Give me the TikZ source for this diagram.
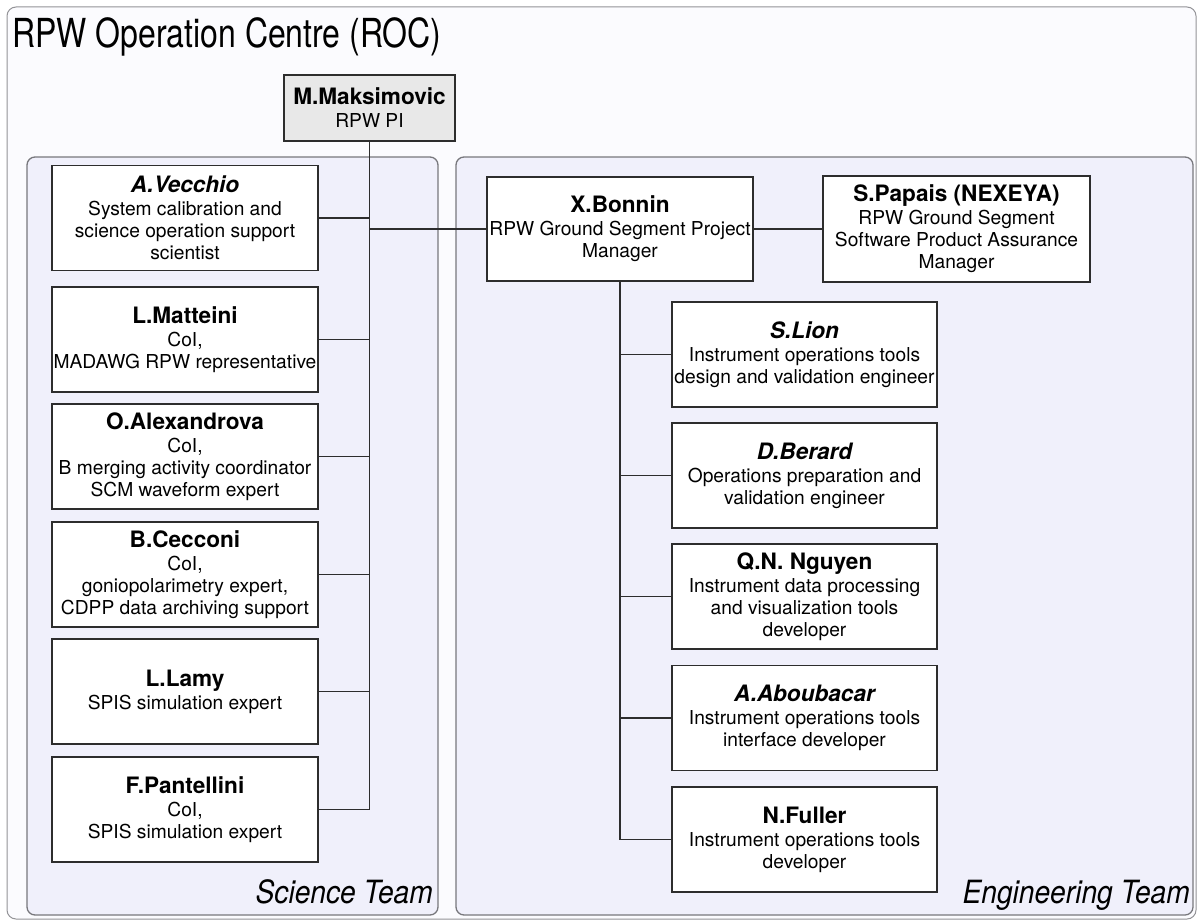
\documentclass[tikz,border=0pt]{standalone}
\usepackage{fontspec}
\usepackage{graphicx}
\setmainfont{TeX Gyre Heros}

\definecolor{rocfill}{RGB}{251,251,254}
\definecolor{teamfill}{RGB}{240,240,251}
\definecolor{pifill}{RGB}{232,232,232}
\definecolor{ink}{RGB}{45,45,45}
\definecolor{frame}{RGB}{120,120,125}

\newcommand\pname[1]{{\fontsize{22.6}{24}\selectfont\bfseries #1}}
\newcommand\pnamei[1]{{\fontsize{22.6}{24}\selectfont\bfseries\itshape #1}}
\newcommand\descfont{\fontsize{19.2}{22}\selectfont}

\tikzset{
  rocbox/.style={draw=frame!80, fill=rocfill, line width=1pt, rounded corners=9pt},
  teambox/.style={draw=frame, fill=teamfill, line width=1.3pt, rounded corners=8pt},
  person/.style={draw=ink, line width=1.2pt, fill=white, inner sep=0pt,
    minimum width=266pt, minimum height=105pt, align=center, font=\descfont},
  pibox/.style={person, fill=pifill, line width=1.8pt, minimum width=171pt, minimum height=66pt},
  link/.style={draw=ink, line width=1.1pt},
  teamlabel/.style={anchor=base east, inner sep=0pt, font=\itshape}
}

\begin{document}
\begin{tikzpicture}[x=1pt, y=-1pt]
\useasboundingbox (0,0) rectangle (1201,920);

% frames
\draw[rocbox] (7,7) rectangle (1196,919);
\draw[teambox] (27,157) rectangle (438,915);
\draw[teambox] (456,157) rectangle (1193,915);

\node[anchor=base west, inner sep=0pt] (title) at (12,48)
  {\scalebox{0.8}[1]{\fontsize{40}{40}\selectfont RPW Operation Centre (ROC)}};
\node[teamlabel] (scilabel) at (433,903)
  {\scalebox{0.88}[1]{\fontsize{32}{32}\selectfont\itshape Science Team}};
\node[teamlabel] (englabel) at (1190,903)
  {\scalebox{0.88}[1]{\fontsize{32}{32}\selectfont\itshape Engineering Team}};

% principal investigator
\node[pibox] (pi) at (369.5,108) {\pname{M.Maksimovic}\\[1pt] RPW PI};

% science team
\node[person] (vecchio) at (185,218) {\pnamei{A.Vecchio}\\[1pt] System calibration and\\ science operation support\\ scientist};
\node[person] (matteini) at (185,339.5) {\pname{L.Matteini}\\[1pt] CoI,\\ MADAWG RPW representative};
\node[person] (alexandrova) at (185,456.5) {\pname{O.Alexandrova}\\[1pt] CoI,\\ B merging activity coordinator\\ SCM waveform expert};
\node[person] (cecconi) at (185,574.5) {\pname{B.Cecconi}\\[1pt] CoI,\\ goniopolarimetry expert,\\ CDPP data archiving support};
\node[person] (lamy) at (185,691.5) {\pname{L.Lamy}\\[1pt] SPIS simulation expert};
\node[person] (pantellini) at (185,809.5) {\pname{F.Pantellini}\\[1pt] CoI,\\ SPIS simulation expert};

% engineering team
\node[person, minimum height=104pt] (bonnin) at (620,229) {\pname{X.Bonnin}\\[1pt] RPW Ground Segment Project\\ Manager};
\node[person, minimum width=267pt, minimum height=106pt] (papais) at (956.5,229) {\pname{S.Papais (NEXEYA)}\\[1pt] RPW Ground Segment\\ Software Product Assurance\\ Manager};

\node[person, minimum width=265pt] (lion) at (804.5,354.5) {\pnamei{S.Lion}\\[1pt] Instrument operations tools\\ design and validation engineer};
\node[person, minimum width=265pt] (berard) at (804.5,475.5) {\pnamei{D.Berard}\\[1pt] Operations preparation and\\ validation engineer};
\node[person, minimum width=265pt] (nguyen) at (804.5,596.5) {\pname{Q.N. Nguyen}\\[1pt] Instrument data processing\\ and visualization tools\\ developer};
\node[person, minimum width=265pt] (aboubacar) at (804.5,718) {\pnamei{A.Aboubacar}\\[1pt] Instrument operations tools\\ interface developer};
\node[person, minimum width=265pt] (fuller) at (804.5,839.5) {\pname{N.Fuller}\\[1pt] Instrument operations tools\\ developer};

% connectors
\coordinate (scibottom) at (pi.south |- pantellini.east);
\draw[link] (pi.south) -- (scibottom);
\foreach \n in {vecchio,matteini,alexandrova,cecconi,lamy,pantellini}
  \draw[link] (\n.east) -- (\n.east -| pi.south);
\draw[link] (pi.south |- bonnin.west) -- (bonnin.west);
\draw[link] (bonnin.east) -- (papais.west);
\coordinate (engbottom) at (bonnin.south |- fuller.west);
\draw[link] (bonnin.south) -- (engbottom);
\foreach \n in {lion,berard,nguyen,aboubacar,fuller}
  \draw[link] (\n.west) -- (\n.west -| bonnin.south);
\end{tikzpicture}
\end{document}
